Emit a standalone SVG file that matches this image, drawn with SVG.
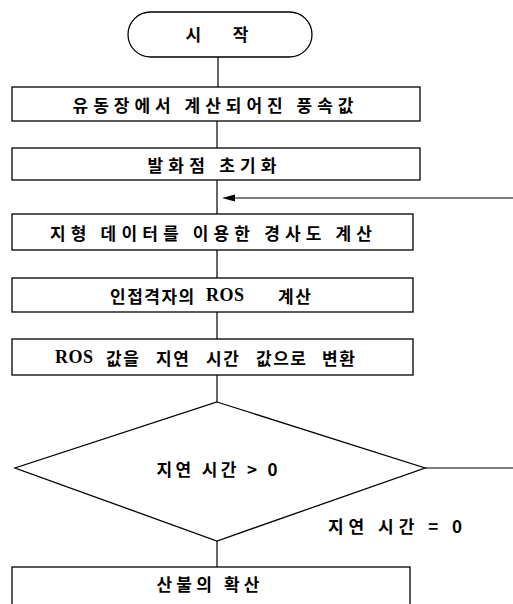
<svg xmlns="http://www.w3.org/2000/svg" width="513" height="604" viewBox="0 0 513 604">
<style>
.b{fill:#fff;stroke:#000;stroke-width:1.3}
.c{fill:none;stroke:#000;stroke-width:1.2}
.t{font-family:"Noto Sans CJK KR","Noto Sans",sans-serif;font-weight:bold;font-size:17px;fill:#000;text-anchor:middle;dominant-baseline:central}
.s{text-anchor:start;letter-spacing:1.5px}
.r{font-family:"Liberation Serif",serif;font-weight:bold;font-size:18px;letter-spacing:0.5px}
</style>
<g id="connectors">
<line class="c" x1="218" y1="57" x2="218" y2="87"/>
<line class="c" x1="217" y1="121" x2="217" y2="148"/>
<line class="c" x1="217" y1="180" x2="217" y2="214"/>
<line class="c" x1="217" y1="250" x2="217" y2="278"/>
<line class="c" x1="217" y1="312" x2="217" y2="339"/>
<line class="c" x1="217" y1="375" x2="217" y2="402"/>
<line class="c" x1="217" y1="541" x2="217" y2="567"/>
<line class="c" x1="425" y1="468" x2="513" y2="468"/>
<line class="c" x1="234" y1="198" x2="513" y2="198"/>
<path d="M222,198 L235,194.5 L235,201.5 Z" fill="#000"/>
<text class="t" x="395" y="525" textLength="134" lengthAdjust="spacing">지연 시간 = 0</text>
</g>
<g id="start">
<rect class="b" x="128" y="12" width="184" height="45" rx="22.5"/>
<text class="t" x="217" y="33" textLength="63" lengthAdjust="spacing">시 작</text>
</g>
<g id="n1">
<rect class="b" x="12" y="87" width="408" height="34"/>
<text class="t" x="213" y="104" textLength="281" lengthAdjust="spacing">유동장에서 계산되어진 풍속값</text>
</g>
<g id="n2">
<rect class="b" x="12" y="148" width="408" height="32"/>
<text class="t" x="212" y="164" textLength="129" lengthAdjust="spacing">발화점 초기화</text>
</g>
<g id="n3">
<rect class="b" x="12" y="214" width="401" height="36"/>
<text class="t" x="211" y="232" textLength="322" lengthAdjust="spacing">지형 데이터를 이용한 경사도 계산</text>
</g>
<g id="n4">
<rect class="b" x="12" y="278" width="401" height="34"/>
<text class="t s" y="295"><tspan x="110">인접격자의</tspan> <tspan class="r" x="206">ROS</tspan> <tspan x="278">계산</tspan></text>
</g>
<g id="n5">
<rect class="b" x="12" y="339" width="401" height="36"/>
<text class="t s" y="357"><tspan class="r" x="55">ROS</tspan> <tspan x="106">값을</tspan> <tspan x="156">지연</tspan> <tspan x="206">시간</tspan> <tspan x="256">값으로</tspan> <tspan x="322">변환</tspan></text>
</g>
<g id="decision">
<polygon class="b" points="217,402 425,468 217,541 15,468"/>
<text class="t" x="217" y="468" textLength="121" lengthAdjust="spacing">지연 시간 &gt; 0</text>
</g>
<g id="n6">
<rect class="b" x="12" y="567" width="398" height="50"/>
<text class="t" x="208" y="583" textLength="103" lengthAdjust="spacing">산불의 확산</text>
</g>
</svg>
